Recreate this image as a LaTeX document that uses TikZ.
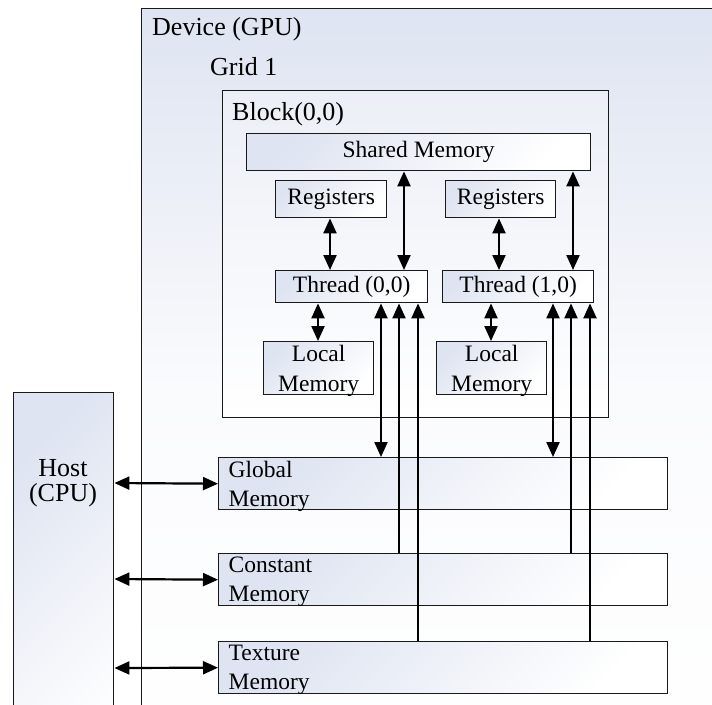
\documentclass[tikz,border=0pt]{standalone}
\usepackage{fontspec}
\setmainfont{Liberation Serif}
\usetikzlibrary{arrows.meta}
\definecolor{gradc}{RGB}{222,228,241}
\definecolor{edgec}{RGB}{25,25,25}
\newcommand{\nodp}[1]{\raisebox{0pt}[\height][0pt]{#1}}
\begin{document}
\begin{tikzpicture}[x=1pt,y=-1pt,
  >={Triangle[length=15pt,width=13pt]},
  box/.style={draw=edgec, line width=1.4pt, top color=gradc, bottom color=white, shading angle=45,
    inner sep=0pt, anchor=north west, font=\fontsize{23.5}{29}\selectfont},
  bigtxt/.style={font=\fontsize{26}{28}\selectfont, inner sep=0pt, anchor=base west},
  conn/.style={line width=2.2pt}
]
\useasboundingbox (0,0) rectangle (712,704);
\clip (0,0) rectangle (712,704);
\fill[white] (0,0) rectangle (712,704);
% containers
\node[box, minimum width=640pt, minimum height=760pt, top color=gradc, middle color=white!85!gradc] (dev) at (141,8) {};
\node[box, minimum width=100pt, minimum height=400pt] (host) at (13,392) {};
\node[box, minimum width=386pt, minimum height=327pt, top color=white!40!gradc] (blk) at (222,90) {};
\node[bigtxt] (devlbl) at (152,35) {Device (GPU)};
\node[bigtxt] (gridlbl) at (210,75) {Grid 1};
\node[bigtxt] (blklbl) at (232,120) {Block(0,0)};
\node[bigtxt, anchor=base, align=center, font=\fontsize{26}{25}\selectfont] (hostlbl) at (63,501) {Host\\(CPU)};
% block contents
\node[box, minimum width=344pt, minimum height=37pt] (shm) at (246,133) {Shared Memory};
\node[box, minimum width=111pt, minimum height=37pt] (regL) at (275,180) {Registers};
\node[box, minimum width=110pt, minimum height=37pt] (regR) at (445,180) {Registers};
\node[box, minimum width=152pt, minimum height=32pt] (thrL) at (275,270) {Thread (0,0)};
\node[box, minimum width=151pt, minimum height=32pt] (thrR) at (442,270) {Thread (1,0)};
\node[box, minimum width=110pt, minimum height=53pt, align=center, font=\fontsize{23.5}{30}\selectfont] (locL) at (263,341) {Local\\\nodp{Memory}};
\node[box, minimum width=110pt, minimum height=53pt, align=center, font=\fontsize{23.5}{30}\selectfont] (locR) at (436,341) {Local\\\nodp{Memory}};
% device memories
\node[box, minimum width=449pt, minimum height=52pt, text width=429pt, align=left, inner xsep=10pt] (glob) at (218,457) {Global\\\nodp{Memory}};
\node[box, minimum width=449pt, minimum height=52pt, text width=429pt, align=left, inner xsep=10pt] (cons) at (218,553) {Constant\\\nodp{Memory}};
\node[box, minimum width=449pt, minimum height=52pt, text width=429pt, align=left, inner xsep=10pt] (tex) at (218,641) {Texture\\\nodp{Memory}};
% connectors inside block
\draw[conn,<->] (regL.south -| 330,0) -- (thrL.north -| 330,0);
\draw[conn,<->] (regR.south -| 499,0) -- (thrR.north -| 499,0);
\draw[conn,<->] (shm.south -| 404,0) -- (thrL.north -| 404,0);
\draw[conn,<->] (shm.south -| 573,0) -- (thrR.north -| 573,0);
\draw[conn,<->] (thrL.south -| 318,0) -- (locL.north -| 318,0);
\draw[conn,<->] (thrR.south -| 491,0) -- (locR.north -| 491,0);
% threads to device memories
\draw[conn,<->] (thrL.south -| 381,0) -- (glob.north -| 381,0);
\draw[conn,->] (cons.north -| 399,0) -- (thrL.south -| 399,0);
\draw[conn,->] (tex.north -| 418,0) -- (thrL.south -| 418,0);
\draw[conn,<->] (thrR.south -| 553,0) -- (glob.north -| 553,0);
\draw[conn,->] (cons.north -| 571,0) -- (thrR.south -| 571,0);
\draw[conn,->] (tex.north -| 590,0) -- (thrR.south -| 590,0);
% host to memories
\draw[conn,<->] (host.east |- 0,483) -- (glob.west);
\draw[conn,<->] (host.east |- 0,579) -- (cons.west);
\draw[conn,<->] (host.east |- 0,668) -- (tex.west);
\end{tikzpicture}
\end{document}
